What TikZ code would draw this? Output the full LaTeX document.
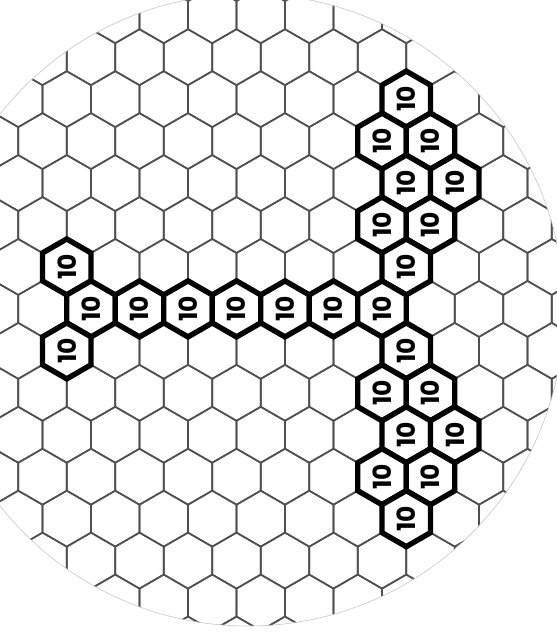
\documentclass[tikz,border=0pt]{standalone}
\usepackage{fontspec}
\newfontfamily\tenfont{Poppins}
\usetikzlibrary{shapes.geometric}
\definecolor{gridgray}{RGB}{80,80,80}
\definecolor{rimgray}{RGB}{200,200,200}
\tikzset{
  gridline/.style={draw=gridgray, line width=0.8pt, line join=miter},
  rim/.style={draw=rimgray, line width=0.3pt},
  ten/.style={
    shape=regular polygon, regular polygon sides=6, rotate=90,
    minimum size=28pt, inner sep=0pt, outer sep=0pt,
    draw=black, line width=2.7pt, fill=white,
    font=\tenfont\bfseries\fontsize{12.5}{14}\selectfont
  }
}

\begin{document}
\begin{tikzpicture}[x=0.5pt, y=-0.5pt]
  \useasboundingbox (0,0) rectangle (556,635);
  \fill[white] (0,0) rectangle (556,635);

  % honeycomb, clipped to the round board
  \begin{scope}
    \clip (248,310) circle [radius=316];
    \foreach \r in {-2,...,13}{
      \foreach \k in {-1,...,12}{
        \pgfmathsetmacro\cx{42.5+48.5*\k+24.25*mod(\r+11,2)}
        \pgfmathsetmacro\cy{99.15+41.95*\r}
        \draw[gridline] (\cx,\cy) +(0,-28) -- +(24.25,-14) -- +(24.25,14)
          -- +(0,28) -- +(-24.25,14) -- +(-24.25,-14) -- cycle;
      }
    }
  \end{scope}
  \draw[rim] (248,310) circle [radius=316];

  % marked cells
  \foreach \r/\k in {0/7, 1/7, 1/8, 2/7, 2/8, 3/7, 3/8, 4/7, 4/0,
                     5/1, 5/2, 5/3, 5/4, 5/5, 5/6, 5/7,
                     6/7, 6/0, 7/7, 7/8, 8/7, 8/8, 9/7, 9/8, 10/7}{
    \pgfmathsetmacro\cx{42.5+48.5*\k+24.25*mod(\r+11,2)}
    \pgfmathsetmacro\cy{99.15+41.95*\r}
    \node[ten] (h\r-\k) at (\cx,\cy) {10};
  }
\end{tikzpicture}
\end{document}
